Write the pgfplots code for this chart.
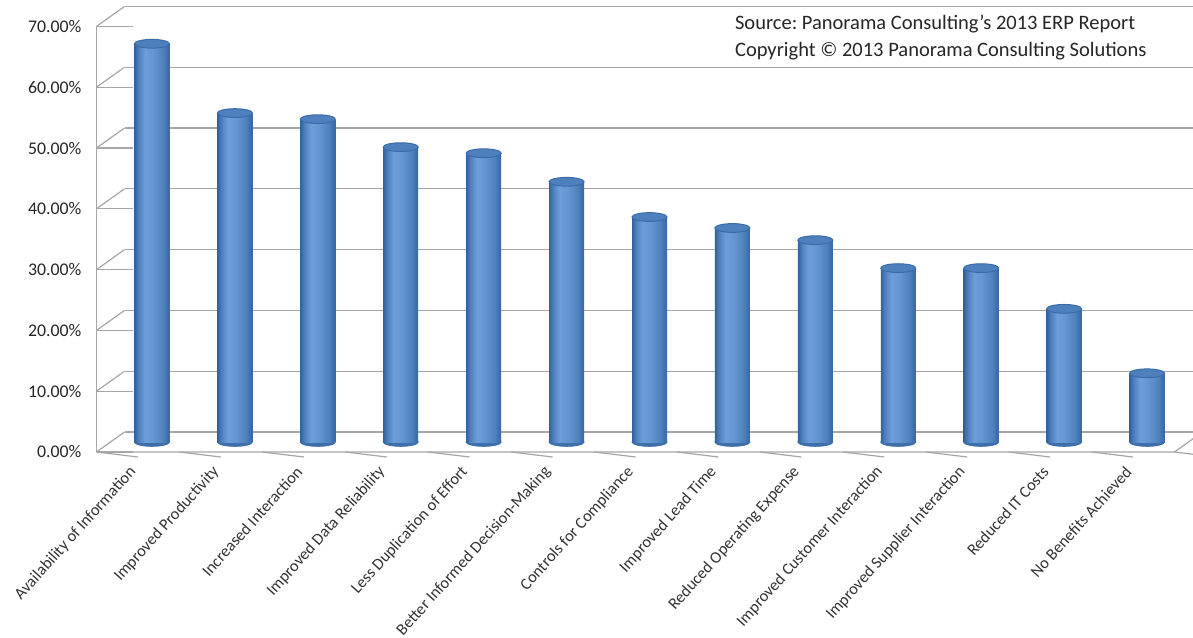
\documentclass[border=0pt]{standalone}
\usepackage{fontspec}
\setmainfont{Carlito}
\usepackage{pgfplots}
\pgfplotsset{compat=1.18}
\definecolor{barmid}{HTML}{4F81BD}
\definecolor{barlight}{HTML}{6D9EDA}
\definecolor{bardark}{HTML}{33639E}
\definecolor{bartop}{HTML}{4E80BE}
\definecolor{baredge}{HTML}{3B6BA8}
\definecolor{gridc}{HTML}{A6A6A6}
\pgfdeclarehorizontalshading{cyl}{100bp}{color(0bp)=(bardark); color(25bp)=(bardark); color(31bp)=(barmid); color(40bp)=(barlight); color(52bp)=(barlight!70!barmid); color(66bp)=(barmid); color(73bp)=(baredge); color(75bp)=(baredge); color(100bp)=(baredge)}
\begin{document}
\frenchspacing
\begin{tikzpicture}
\path[use as bounding box, fill=white] (0,0) rectangle (596.5pt,318.5pt);
\begin{axis}[
  at={(55.25pt,97.5pt)}, anchor=south west,
  scale only axis, width=539pt, height=212.8pt,
  xmin=-0.5, xmax=12.5, ymin=0, ymax=70,
  clip=false, clip mode=individual, clip marker paths=true,
  axis line style={draw=none},
  major tick length=0pt,
  xtick={0,...,12},
  xticklabels={Availability of Information,Improved Productivity,Increased Interaction,Improved Data Reliability,Less Duplication of Effort,Better Informed Decision-Making,Controls for Compliance,Improved Lead Time,Reduced Operating Expense,Improved Customer Interaction,Improved Supplier Interaction,Reduced IT Costs,No Benefits Achieved},
  ytick={0,10,20,30,40,50,60,70},
  yticklabels={0.00\%,10.00\%,20.00\%,30.00\%,40.00\%,50.00\%,60.00\%,70.00\%},
  x tick label style={font=\fontsize{8.2}{9}\selectfont, text=black!80, anchor=east, xshift=-7pt, yshift=-11pt, rotate=48},
  y tick label style={font=\fontsize{8.9}{10}\selectfont, text=black!85, xshift=-11pt, yshift=-5pt},
  cyl/.style={ybar, bar shift=0pt, bar width=17.5pt, draw=none, shade, shading=cyl, forget plot},
]
% back wall gridlines, left wall and ticks
\pgfplotsinvokeforeach{0,10,20,30,40,50,60,70}{
  \draw[gridc, line width=0.6pt] ([shift={(7pt,5pt)}]axis cs:-0.5,#1) -- ([shift={(7pt,5pt)}]axis cs:12.5,#1);
  \draw[gridc, line width=0.6pt] ([shift={(-7pt,-5pt)}]axis cs:-0.5,#1) -- ([shift={(7pt,5pt)}]axis cs:-0.5,#1);
  \draw[gridc, line width=0.6pt] ([shift={(-7pt,-5pt)}]axis cs:-0.5,#1) -- ++(-2.5pt,0);
}
\draw[gridc, line width=0.6pt] ([shift={(-7pt,-5pt)}]axis cs:-0.5,0) -- ([shift={(-7pt,-5pt)}]axis cs:-0.5,70);
\draw[gridc, line width=0.6pt] ([shift={(-7pt,-5pt)}]axis cs:-0.5,0) -- ([shift={(-7pt,-5pt)}]axis cs:12.5,0) -- ([shift={(7pt,5pt)}]axis cs:12.5,0);
\pgfplotsinvokeforeach{-0.5,0.5,1.5,2.5,3.5,4.5,5.5,6.5,7.5,8.5,9.5,10.5,11.5,12.5}{
  \draw[gridc, line width=0.6pt] ([shift={(-7pt,-5pt)}]axis cs:#1,0) -- ++(0,-2.5pt);
}
% bottoms of cylinders
\addplot[only marks, color=bardark, mark=*, mark size=8.75pt, mark options={yscale=0.25, fill=bardark!60!barmid, draw=bardark!60!barmid}]
  coordinates {(0,0) (1,0) (2,0) (3,0) (4,0) (5,0) (6,0) (7,0) (8,0) (9,0) (10,0) (11,0) (12,0)};
% cylinders (one plot per bar so that each bar gets its own shading)
\addplot[cyl] coordinates {(0,65.5)};
\addplot[cyl] coordinates {(1,54.1)};
\addplot[cyl] coordinates {(2,53.1)};
\addplot[cyl] coordinates {(3,48.5)};
\addplot[cyl] coordinates {(4,47.5)};
\addplot[cyl] coordinates {(5,42.8)};
\addplot[cyl] coordinates {(6,37.0)};
\addplot[cyl] coordinates {(7,35.2)};
\addplot[cyl] coordinates {(8,33.2)};
\addplot[cyl] coordinates {(9,28.6)};
\addplot[cyl] coordinates {(10,28.6)};
\addplot[cyl] coordinates {(11,21.9)};
\addplot[cyl] coordinates {(12,11.3)};
% tops of cylinders
\addplot[only marks, color=baredge, mark=*, mark size=8.75pt, mark options={yscale=0.25, fill=bartop, draw=baredge, line width=0.5pt}]
  coordinates {(0,65.5) (1,54.1) (2,53.1) (3,48.5) (4,47.5) (5,42.8) (6,37.0) (7,35.2) (8,33.2) (9,28.6) (10,28.6) (11,21.9) (12,11.3)};
\end{axis}
\node[anchor=west, align=left, font=\fontsize{10.25}{13.5}\selectfont, text=black!85] at (364pt,299.75pt)
  {Source: Panorama Consulting’s 2013 ERP Report\\Copyright © 2013 Panorama Consulting Solutions};
\end{tikzpicture}
\end{document}
